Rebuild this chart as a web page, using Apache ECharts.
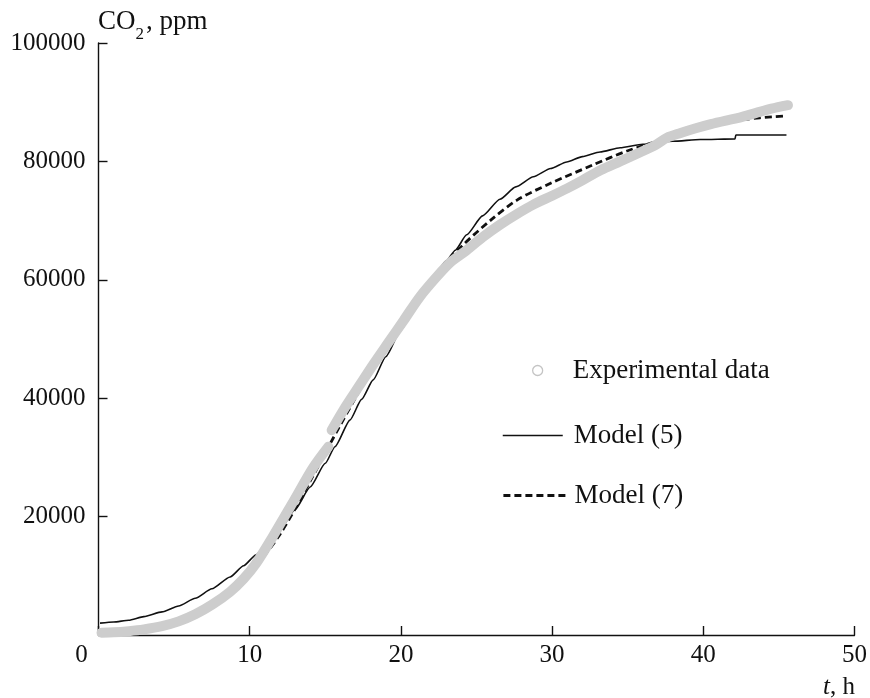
<!DOCTYPE html>
<html>
<head>
<meta charset="utf-8">
<script src="https://cdn.jsdelivr.net/npm/echarts@6/dist/echarts.min.js"></script>
<style>
html,body{margin:0;padding:0;background:#fff;}
#chart{width:870px;height:698px;}
</style>
</head>
<body>
<div id="chart"></div>
<script>
// ---- data ----
var xTicks = [0, 10, 20, 30, 40, 50];
var yTicks = [0, 20000, 40000, 60000, 80000, 100000];

// Experimental data (t, h ; CO2, ppm) ; null marks the break in the record
var expT = [0.2, 1, 2, 3, 4.2, 5.3, 6.4, 7.5, 8.7, 9.6, 10.4, 11.5, 12.9, 14.2, 15.2, 15.3,
  15.42, 16.2, 17.3, 18.2, 19.2, 20.2, 21.26, 22.4, 23.3, 24.35, 25.4, 26.55, 27.6, 28.76,
  30, 31, 32, 33.2, 34.5, 35.8, 36.8, 37.6, 38.5, 39.5, 40.5, 41.5, 42.4, 43.5, 44.5, 45.6];
var expCO2 = [400, 450, 650, 950, 1500, 2300, 3500, 5100, 7300, 9500, 12000, 16500, 22600, 28300, 31800, null,
  34600, 38000, 42300, 45800, 49500, 53200, 57150, 60600, 63000, 65000, 67200, 69300, 71000, 72700,
  74200, 75450, 76800, 78500, 80000, 81500, 82700, 84000, 84800, 85600, 86300, 86900, 87400, 88200, 88900, 89500];

// Model (5)
var m5T = [0.1, 1, 2, 3, 4.2, 5.3, 6.4, 7.5, 8.7, 9.6, 10.4, 11.1, 12, 13, 14, 15, 15.64, 16.63,
  17.4, 18.17, 19, 20, 21, 22, 23, 23.6, 24.35, 25.4, 26.55, 27.6, 28.76, 29.9, 30.97, 32,
  33.17, 34.5, 36, 38, 39.8, 42.1, 42.15, 45.5];
var m5CO2 = [2000, 2200, 2500, 3100, 3900, 4900, 6200, 7800, 9800, 11700, 13500, 15100, 17800, 21200,
  25000, 29000, 31800, 36300, 39800, 43100, 47000, 51500, 55800, 59800, 63200, 65000, 67600, 70800,
  73600, 75700, 77400, 78800, 79900, 80800, 81600, 82300, 82900, 83400, 83700, 83800, 84450, 84450];

// Model (7)
var m7T = [0.1, 2, 4, 6, 8, 10, 12, 14, 16, 18, 20, 22, 24, 26, 27.7, 29.9, 32.7, 35, 38, 40, 42.4, 45.5];
var m7CO2 = [600, 900, 1700, 3300, 6200, 10500, 17000, 26000, 35500, 44500, 52500, 59800, 65600,
  70200, 73500, 76300, 79400, 81800, 84200, 85600, 87000, 87700];

function pairs(xs, ys) {
  var out = [];
  for (var i = 0; i < xs.length; i++) out.push([xs[i], ys[i] === null ? '-' : ys[i]]);
  return out;
}

var FONT = 'Liberation Serif';
var TXT = '#111';
var LFS = 27;
var chart = echarts.init(document.getElementById('chart'));
var axisLineStyle = {color: '#111', width: 1.4};

chart.setOption({
  animation: false,
  backgroundColor: '#fff',
  grid: {left: 98.5, right: 15.5, top: 43, bottom: 63, containLabel: false},
  xAxis: {
    type: 'value', min: xTicks[0], max: xTicks[xTicks.length - 1], interval: xTicks[1] - xTicks[0],
    axisLine: {lineStyle: axisLineStyle},
    axisTick: {inside: true, length: 9, lineStyle: axisLineStyle},
    splitLine: {show: false},
    axisLabel: {
      margin: 8, color: TXT, fontFamily: FONT, fontSize: 25,
      formatter: function (v) { return v === 0 ? '{z|0}' : String(v); },
      rich: {z: {fontFamily: FONT, fontSize: 25, color: TXT, padding: [0, 34, 0, 0]}}
    }
  },
  yAxis: {
    type: 'value', min: yTicks[0], max: yTicks[yTicks.length - 1], interval: yTicks[1] - yTicks[0],
    axisLine: {show: true, lineStyle: axisLineStyle},
    axisTick: {show: true, inside: true, length: 9, lineStyle: axisLineStyle},
    splitLine: {show: false},
    axisLabel: {
      margin: 13, color: TXT, fontFamily: FONT, fontSize: 25, showMinLabel: false,
      formatter: function (v) { return String(v); }
    }
  },
  legend: [
    {
      orient: 'vertical', left: 532, top: 357, padding: 0, itemWidth: 60, itemHeight: 10,
      textStyle: {fontFamily: FONT, fontSize: LFS, color: TXT},
      data: [{name: 'Experimental data', icon: 'circle',
        itemStyle: {color: '#fff', borderColor: '#c4c4c4', borderWidth: 1.3}}]
    },
    {
      orient: 'vertical', left: 502, top: 422, padding: 0, itemWidth: 60, itemHeight: 10,
      textStyle: {fontFamily: FONT, fontSize: LFS, color: TXT, padding: [0, 0, 0, 6]},
      data: [{name: 'Model (5)', itemStyle: {opacity: 0},
        lineStyle: {color: '#111', width: 1.5, type: 'solid'}}]
    },
    {
      orient: 'vertical', left: 502, top: 482, padding: 0, itemWidth: 63, itemHeight: 10,
      textStyle: {fontFamily: FONT, fontSize: LFS, color: TXT, padding: [0, 0, 0, 3]},
      data: [{name: 'Model (7)', itemStyle: {opacity: 0},
        lineStyle: {color: '#111', width: 2.8, type: [7, 4]}}]
    }
  ],
  graphic: [
    {
      type: 'text', left: 98, top: 8,
      style: {
        text: '{a|CO}{s|2}{a|, ppm}',
        rich: {
          a: {fontFamily: FONT, fontSize: 27, fill: TXT},
          s: {fontFamily: FONT, fontSize: 17, fill: TXT, padding: [27, 2, 0, 0]}
        }
      }
    },
    {
      type: 'text', right: 15, top: 675,
      style: {
        text: '{i|t}{a|, h}',
        rich: {
          i: {fontFamily: FONT, fontSize: 25, fontStyle: 'italic', fill: TXT},
          a: {fontFamily: FONT, fontSize: 25, fill: TXT}
        }
      }
    }
  ],
  series: [
    {
      name: 'Model (5)', type: 'line', z: 2, symbol: 'none', showSymbol: false,
      data: pairs(m5T, m5CO2), smooth: 0.2, smoothMonotone: 'x',
      lineStyle: {color: '#111', width: 1.6}
    },
    {
      name: 'Model (7)', type: 'line', z: 3, symbol: 'none', showSymbol: false,
      data: pairs(m7T, m7CO2), smooth: 0.3,
      lineStyle: {color: '#111', width: 2.8, type: [7, 4]}
    },
    {
      name: 'Experimental data', type: 'line', z: 4, symbol: 'none', showSymbol: false,
      connectNulls: false, smooth: 0.3,
      data: pairs(expT, expCO2),
      lineStyle: {color: '#cdcdcd', width: 10, cap: 'round', join: 'round'}
    }
  ]
});
</script>
</body>
</html>
